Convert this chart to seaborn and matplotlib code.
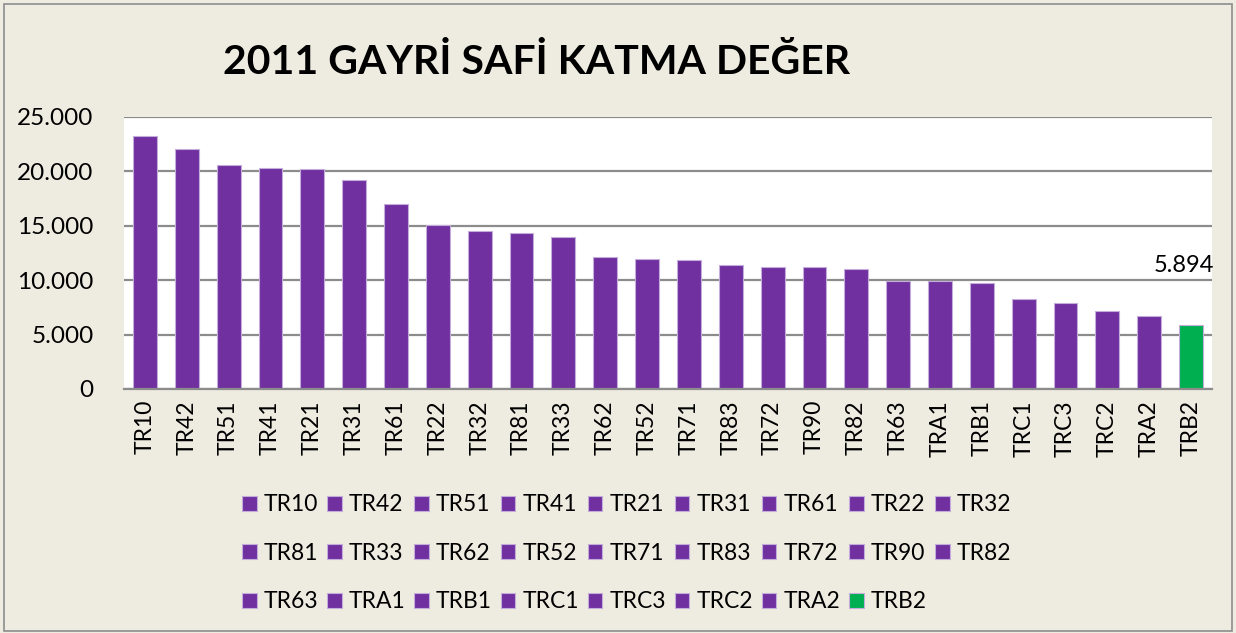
import matplotlib
matplotlib.use("Agg")
import matplotlib.pyplot as plt
from matplotlib.patches import Rectangle
import seaborn as sb
import pandas as pd

bolgeler = ['TR10', 'TR42', 'TR51', 'TR41', 'TR21', 'TR31', 'TR61', 'TR22', 'TR32',
            'TR81', 'TR33', 'TR62', 'TR52', 'TR71', 'TR83', 'TR72', 'TR90', 'TR82',
            'TR63', 'TRA1', 'TRB1', 'TRC1', 'TRC3', 'TRC2', 'TRA2', 'TRB2']
degerler = [23260, 22020, 20550, 20330, 20180, 19170, 16960, 15060, 14500,
            14300, 13970, 12130, 11950, 11900, 11400, 11200, 11200, 11050,
            9890, 9890, 9730, 8290, 7860, 7150, 6670, 5894]
vurgu = 'TRB2'

mor = '#7030A0'
yesil = '#00B050'
zemin = '#EEECE1'

renkler = [yesil if b == vurgu else mor for b in bolgeler]

df = pd.DataFrame({'bolge': bolgeler, 'deger': degerler})

sb.set_style('white')
plt.rcParams['font.family'] = ['Lato', 'DejaVu Sans']
plt.rcParams['text.color'] = 'black'
plt.rcParams['xtick.color'] = 'black'
plt.rcParams['ytick.color'] = 'black'

f = plt.figure(figsize=(12.36, 6.33), dpi=100, facecolor=zemin)
f.patches.append(Rectangle((0.003, 0.003), 0.994, 0.990, transform=f.transFigure,
                           fill=False, edgecolor='#8c8c8c', linewidth=1.2))
ax = f.add_axes([0.1003, 0.3855, 0.8803, 0.4297])
ax.set_facecolor('white')

sb.barplot(data=df, x='bolge', y='deger', hue='bolge', palette=renkler,
           saturation=1, width=0.57, dodge=False, legend=True, ax=ax,
           edgecolor='#c4addb', linewidth=0.8)

ax.set_xlim(-0.5, len(bolgeler) - 0.5)
ax.set_ylim(0, 25000)
ax.set_yticks(range(0, 25001, 5000))
ax.set_yticklabels(['0' if v == 0 else f'{v:,}'.replace(',', '.') for v in range(0, 25001, 5000)],
                   fontsize=17.5)
ax.set_xticks(range(len(bolgeler)))
ax.set_xticklabels(bolgeler, rotation=90, fontsize=16.5)
ax.tick_params(axis='y', length=0, pad=22)
ax.tick_params(axis='x', length=0, pad=8)
ax.set_xlabel('')
ax.set_ylabel('')
ax.yaxis.grid(True, color='#8c8c8c', linewidth=1.6)
ax.set_axisbelow(True)
for s in ['top', 'right', 'left']:
    ax.spines[s].set_visible(False)
ax.spines['bottom'].set_color('#8c8c8c')
ax.spines['bottom'].set_linewidth(1.6)

i = bolgeler.index(vurgu)
ax.annotate(f'{degerler[i]:,}'.replace(',', '.'), (i, degerler[i]), xytext=(-5, 43),
            textcoords='offset points', ha='center', va='center', fontsize=17)

f.text(0.434, 0.902, '2011 GAYRİ SAFİ KATMA DEĞER', ha='center', va='center',
       fontsize=29.5, fontweight='bold')

# legend: reorder so that rows read left to right
h, l = ax.get_legend_handles_labels()
ax.get_legend().remove()
ncol = 9
sira = [k for c in range(ncol) for k in range(c, len(h), ncol)]
f.legend([h[k] for k in sira], [l[k] for k in sira], ncol=ncol, loc='center',
         bbox_to_anchor=(0.507, 0.126), frameon=False, fontsize=16.5,
         handlelength=0.65, handleheight=0.65, handletextpad=0.3,
         columnspacing=0.38, labelspacing=1.2)

f.savefig('out.png', dpi=100, facecolor=zemin)
